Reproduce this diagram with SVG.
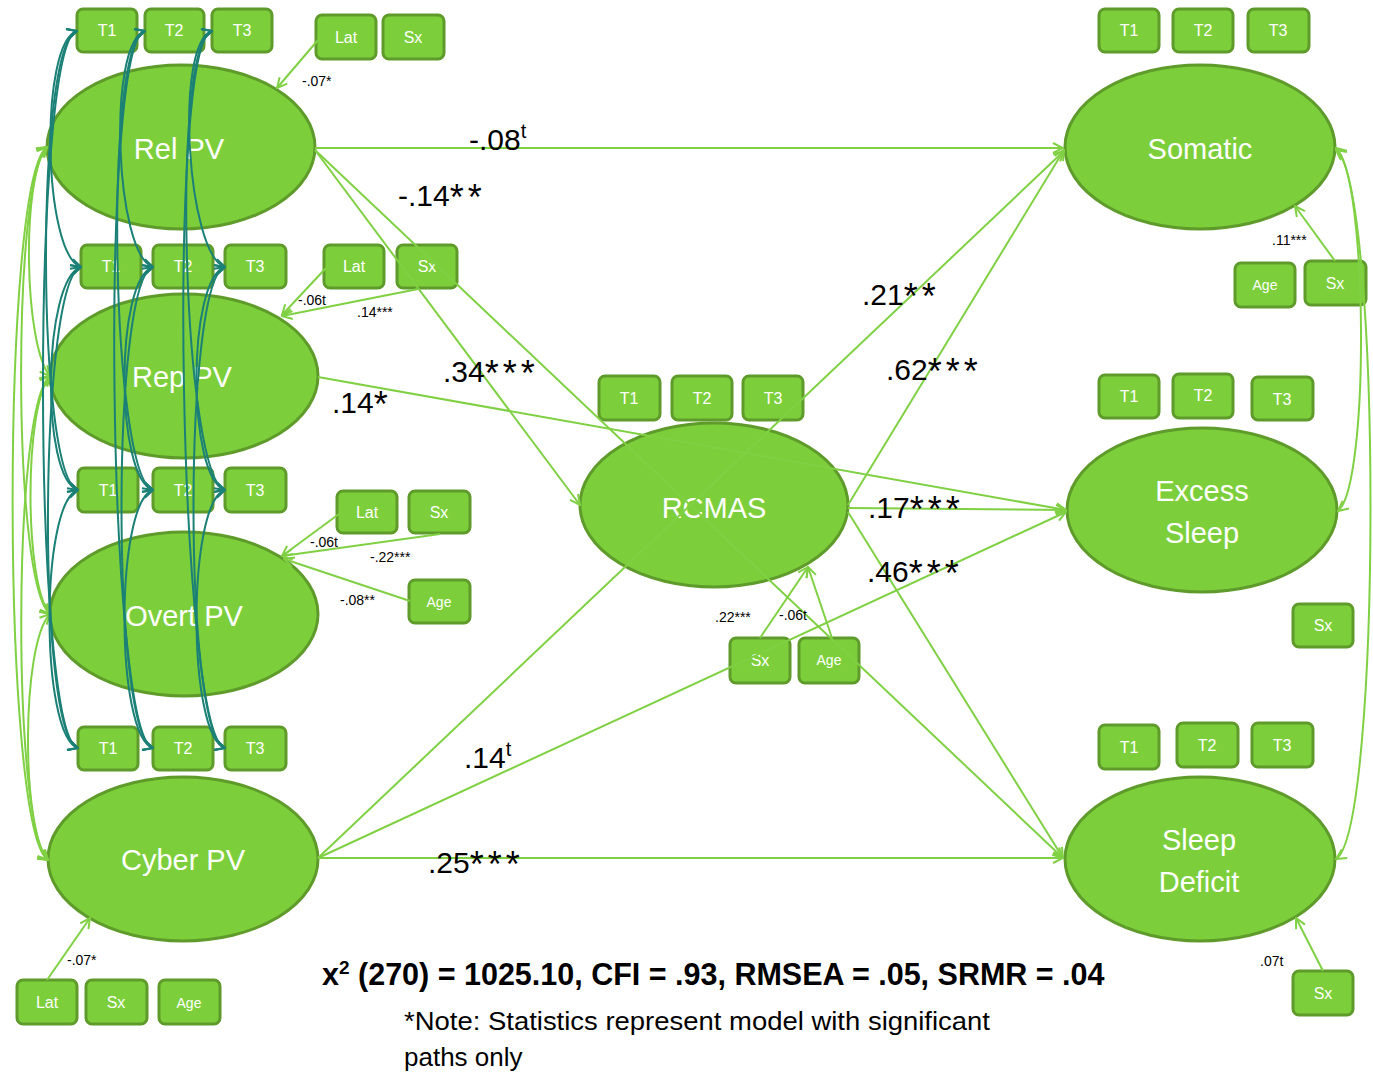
<svg xmlns="http://www.w3.org/2000/svg" width="1373" height="1076" viewBox="0 0 1373 1076">
<style>
.n{fill:#7ccf3b;stroke:#5e9b2b;stroke-width:3}
.bt{font-family:"Liberation Sans",Arial,sans-serif;font-size:16px;fill:#fff;text-anchor:middle}
.ag{font-size:14px}
.et{font-family:"Liberation Sans",Arial,sans-serif;font-size:29px;fill:#fff;text-anchor:middle}
.c{fill:none;stroke:#80d044;stroke-width:2}
.tc{fill:none;stroke:#1b8076;stroke-width:2}
.lb{font-family:"Liberation Sans",Arial,sans-serif;font-size:30px;fill:#000}
.st{font-size:36px;letter-spacing:4px}
.sl{font-family:"Liberation Sans",Arial,sans-serif;font-size:14px;fill:#000}
.ft{font-family:"Liberation Sans",Arial,sans-serif;fill:#000}
</style>
<defs>
<marker id="ag" viewBox="0 0 12 12" refX="11" refY="6" markerWidth="12" markerHeight="12" markerUnits="userSpaceOnUse" orient="auto-start-reverse"><path d="M1,1 L11,6 L1,11" fill="none" stroke="#80d044" stroke-width="2"/></marker>
<marker id="at" viewBox="0 0 12 12" refX="11" refY="6" markerWidth="12" markerHeight="12" markerUnits="userSpaceOnUse" orient="auto-start-reverse"><path d="M1,1 L11,6 L1,11" fill="none" stroke="#1b8076" stroke-width="2"/></marker>
</defs>
<rect width="1373" height="1076" fill="#fff"/>

<!-- Ellipse nodes -->
<g id="relpv"><ellipse class="n" cx="181" cy="147" rx="134" ry="82"/><text class="et" x="179" y="159">Rel PV</text></g>
<g id="reppv"><ellipse class="n" cx="184" cy="376" rx="134" ry="82"/><text class="et" x="182" y="387">Rep PV</text></g>
<g id="overtpv"><ellipse class="n" cx="184" cy="614" rx="134" ry="82"/><text class="et" x="184" y="626">Overt PV</text></g>
<g id="cyberpv"><ellipse class="n" cx="183" cy="859" rx="135" ry="82"/><text class="et" x="183" y="870">Cyber PV</text></g>
<g id="rcmas"><ellipse class="n" cx="714" cy="505" rx="134" ry="82"/><text class="et" x="714" y="518">RCMAS</text></g>
<g id="somatic"><ellipse class="n" cx="1200" cy="147" rx="135" ry="82"/><text class="et" x="1200" y="159">Somatic</text></g>
<g id="excesssleep"><ellipse class="n" cx="1202" cy="510" rx="135" ry="82"/><text class="et" x="1202" y="501">Excess</text><text class="et" x="1202" y="543">Sleep</text></g>
<g id="sleepdeficit"><ellipse class="n" cx="1200" cy="859" rx="135" ry="82"/><text class="et" x="1199" y="850">Sleep</text><text class="et" x="1199" y="892">Deficit</text></g>

<!-- Box nodes -->
<g id="rel-t1"><rect class="n" x="77" y="9" width="60" height="43" rx="6"/><text class="bt" x="107" y="36">T1</text></g>
<g id="rel-t2"><rect class="n" x="145" y="9" width="59" height="43" rx="6"/><text class="bt" x="174" y="36">T2</text></g>
<g id="rel-t3"><rect class="n" x="212" y="9" width="60" height="43" rx="6"/><text class="bt" x="242" y="36">T3</text></g>
<g id="rel-lat"><rect class="n" x="316" y="15" width="60" height="44" rx="6"/><text class="bt" x="346" y="43">Lat</text></g>
<g id="rel-sx"><rect class="n" x="383" y="15" width="61" height="44" rx="6"/><text class="bt" x="413" y="43">Sx</text></g>

<g id="rep-t1"><rect class="n" x="81" y="245" width="60" height="43" rx="6"/><text class="bt" x="111" y="272">T1</text></g>
<g id="rep-t2"><rect class="n" x="153" y="245" width="60" height="43" rx="6"/><text class="bt" x="183" y="272">T2</text></g>
<g id="rep-t3"><rect class="n" x="225" y="245" width="61" height="43" rx="6"/><text class="bt" x="255" y="272">T3</text></g>
<g id="rep-lat"><rect class="n" x="324" y="245" width="60" height="43" rx="6"/><text class="bt" x="354" y="272">Lat</text></g>
<g id="rep-sx"><rect class="n" x="397" y="245" width="60" height="43" rx="6"/><text class="bt" x="427" y="272">Sx</text></g>

<g id="overt-t1"><rect class="n" x="78" y="468" width="60" height="44" rx="6"/><text class="bt" x="108" y="496">T1</text></g>
<g id="overt-t2"><rect class="n" x="153" y="468" width="60" height="44" rx="6"/><text class="bt" x="183" y="496">T2</text></g>
<g id="overt-t3"><rect class="n" x="225" y="468" width="61" height="44" rx="6"/><text class="bt" x="255" y="496">T3</text></g>
<g id="overt-lat"><rect class="n" x="337" y="491" width="60" height="42" rx="6"/><text class="bt" x="367" y="518">Lat</text></g>
<g id="overt-sx"><rect class="n" x="409" y="491" width="61" height="42" rx="6"/><text class="bt" x="439" y="518">Sx</text></g>
<g id="overt-age"><rect class="n" x="409" y="580" width="61" height="43" rx="6"/><text class="bt ag" x="439" y="607">Age</text></g>

<g id="cyber-t1"><rect class="n" x="78" y="727" width="60" height="43" rx="6"/><text class="bt" x="108" y="754">T1</text></g>
<g id="cyber-t2"><rect class="n" x="153" y="727" width="60" height="43" rx="6"/><text class="bt" x="183" y="754">T2</text></g>
<g id="cyber-t3"><rect class="n" x="225" y="727" width="61" height="43" rx="6"/><text class="bt" x="255" y="754">T3</text></g>
<g id="cyber-lat"><rect class="n" x="17" y="980" width="60" height="44" rx="6"/><text class="bt" x="47" y="1008">Lat</text></g>
<g id="cyber-sx"><rect class="n" x="86" y="980" width="61" height="44" rx="6"/><text class="bt" x="116" y="1008">Sx</text></g>
<g id="cyber-age"><rect class="n" x="159" y="980" width="61" height="44" rx="6"/><text class="bt ag" x="189" y="1008">Age</text></g>

<g id="rcmas-t1"><rect class="n" x="599" y="376" width="61" height="44" rx="6"/><text class="bt" x="629" y="404">T1</text></g>
<g id="rcmas-t2"><rect class="n" x="672" y="376" width="60" height="44" rx="6"/><text class="bt" x="702" y="404">T2</text></g>
<g id="rcmas-t3"><rect class="n" x="743" y="376" width="60" height="44" rx="6"/><text class="bt" x="773" y="404">T3</text></g>
<g id="rcmas-sx"><rect class="n" x="730" y="638" width="60" height="45" rx="6"/><text class="bt" x="760" y="666">Sx</text></g>
<g id="rcmas-age"><rect class="n" x="799" y="638" width="60" height="45" rx="6"/><text class="bt ag" x="829" y="665">Age</text></g>

<g id="som-t1"><rect class="n" x="1099" y="9" width="60" height="43" rx="6"/><text class="bt" x="1129" y="36">T1</text></g>
<g id="som-t2"><rect class="n" x="1173" y="9" width="60" height="43" rx="6"/><text class="bt" x="1203" y="36">T2</text></g>
<g id="som-t3"><rect class="n" x="1248" y="9" width="61" height="43" rx="6"/><text class="bt" x="1278" y="36">T3</text></g>
<g id="som-age"><rect class="n" x="1235" y="263" width="60" height="44" rx="6"/><text class="bt ag" x="1265" y="290">Age</text></g>
<g id="som-sx"><rect class="n" x="1305" y="261" width="61" height="44" rx="6"/><text class="bt" x="1335" y="289">Sx</text></g>

<g id="exc-t1"><rect class="n" x="1099" y="375" width="60" height="43" rx="6"/><text class="bt" x="1129" y="402">T1</text></g>
<g id="exc-t2"><rect class="n" x="1173" y="374" width="60" height="44" rx="6"/><text class="bt" x="1203" y="401">T2</text></g>
<g id="exc-t3"><rect class="n" x="1252" y="377" width="61" height="43" rx="6"/><text class="bt" x="1282" y="405">T3</text></g>
<g id="exc-sx"><rect class="n" x="1293" y="604" width="60" height="43" rx="6"/><text class="bt" x="1323" y="631">Sx</text></g>

<g id="sd-t1"><rect class="n" x="1099" y="725" width="60" height="44" rx="6"/><text class="bt" x="1129" y="753">T1</text></g>
<g id="sd-t2"><rect class="n" x="1177" y="723" width="61" height="44" rx="6"/><text class="bt" x="1207" y="751">T2</text></g>
<g id="sd-t3"><rect class="n" x="1252" y="723" width="61" height="44" rx="6"/><text class="bt" x="1282" y="751">T3</text></g>
<g id="sd-sx"><rect class="n" x="1293" y="971" width="60" height="44" rx="6"/><text class="bt" x="1323" y="999">Sx</text></g>

<!-- Connectors -->
<g id="connectors">
<g class="c" marker-end="url(#ag)">
<path d="M315,148 L1063,148"/>
<path d="M315,150 L580,505"/>
<path d="M315,150 L1063,858"/>
<path d="M318,377 L1066,510"/>
<path d="M848,505 L1064,150"/>
<path d="M848,508 L1066,510"/>
<path d="M848,512 L1063,858"/>
<path d="M318,858 L1064,151"/>
<path d="M318,858 L1066,512"/>
<path d="M318,858 L1063,858"/>
<path d="M318,40 L277,88"/>
<path d="M326,268 L282,315"/>
<path d="M418,289 L282,316"/>
<path d="M339,514 L282,556"/>
<path d="M440,534 L282,556"/>
<path d="M410,601 L284,559"/>
<path d="M47,980 L90,918"/>
<path d="M760,638 L808,567"/>
<path d="M832,638 L808,567"/>
<path d="M1335,261 L1295,206"/>
<path d="M1323,971 L1296,918"/>
</g>
<!-- left correlations among PV factors -->
<g class="c" marker-start="url(#ag)" marker-end="url(#ag)">
<path d="M47,147 C21,177 24,346 50,376"/>
<path d="M47,147 C12,177 12,584 50,614"/>
<path d="M47,147 C1,177 1,830 48,860"/>
<path d="M50,376 C24,406 24,584 50,614"/>
<path d="M50,376 C12,406 12,830 48,860"/>
<path d="M50,614 C21,644 21,830 48,860"/>
</g>
<!-- right correlations among outcomes -->
<g class="c" marker-start="url(#ag)" marker-end="url(#ag)">
<path d="M1336,148 C1368,175 1370,485 1338,511"/>
<path d="M1336,150 C1382,185 1382,830 1336,859"/>
</g>
<!-- teal correlated errors across waves -->
<g class="tc" marker-start="url(#at)" marker-end="url(#at)">
<path d="M77,31 C39,43 43,255 81,267"/>
<path d="M77,31 C35,43 36,478 78,490"/>
<path d="M77,31 C31,43 32,736 78,748"/>
<path d="M81,267 C43,279 40,478 78,490"/>
<path d="M81,267 C39,279 36,736 78,748"/>
<path d="M78,490 C40,502 40,736 78,748"/>
<path d="M145,31 C107,43 115,255 153,267"/>
<path d="M145,31 C103,43 111,478 153,490"/>
<path d="M145,31 C99,43 107,736 153,748"/>
<path d="M153,267 C115,279 115,478 153,490"/>
<path d="M153,267 C111,279 111,736 153,748"/>
<path d="M153,490 C115,502 115,736 153,748"/>
<path d="M212,31 C174,43 187,255 225,267"/>
<path d="M212,31 C170,43 183,478 225,490"/>
<path d="M212,31 C166,43 179,736 225,748"/>
<path d="M225,267 C187,279 187,478 225,490"/>
<path d="M225,267 C183,279 183,736 225,748"/>
<path d="M225,490 C187,502 187,736 225,748"/>
</g>
</g>

<!-- Path labels -->
<g id="labels">
<text class="lb" x="469" y="150">-.08<tspan dy="-12" font-size="20">t</tspan></text>
<text class="lb" x="398" y="206">-.14<tspan class="st" dy="4">**</tspan></text>
<text class="lb" x="443" y="382">.34<tspan class="st" dy="4">***</tspan></text>
<text class="lb" x="332" y="413">.14<tspan class="st" dy="4">*</tspan></text>
<text class="lb" x="862" y="305">.21<tspan class="st" dy="4">**</tspan></text>
<text class="lb" x="886" y="380">.62<tspan class="st" dy="4">***</tspan></text>
<text class="lb" x="868" y="518">.17<tspan class="st" dy="4">***</tspan></text>
<text class="lb" x="867" y="582">.46<tspan class="st" dy="4">***</tspan></text>
<text class="lb" x="464" y="768">.14<tspan dy="-12" font-size="20">t</tspan></text>
<text class="lb" x="428" y="873">.25<tspan class="st" dy="4">***</tspan></text>
<text class="sl" x="302" y="86">-.07*</text>
<text class="sl" x="298" y="305">-.06t</text>
<text class="sl" x="357" y="317">.14***</text>
<text class="sl" x="310" y="547">-.06t</text>
<text class="sl" x="370" y="562">-.22***</text>
<text class="sl" x="340" y="605">-.08**</text>
<text class="sl" x="67" y="965">-.07*</text>
<text class="sl" x="715" y="622">.22***</text>
<text class="sl" x="779" y="620">-.06t</text>
<text class="sl" x="1272" y="245">.11***</text>
<text class="sl" x="1260" y="966">.07t</text>
</g>

<g id="fit">
<text class="ft" x="322" y="985" font-size="30.5" font-weight="bold">x<tspan dy="-11" font-size="19">2</tspan><tspan dy="11"> (270) = 1025.10, CFI = .93, RMSEA = .05, SRMR = .04</tspan></text>
<text class="ft" x="404" y="1030" font-size="26" textLength="586" lengthAdjust="spacingAndGlyphs">*Note: Statistics represent model with significant</text>
<text class="ft" x="404" y="1066" font-size="26">paths only</text>
</g>
</svg>
